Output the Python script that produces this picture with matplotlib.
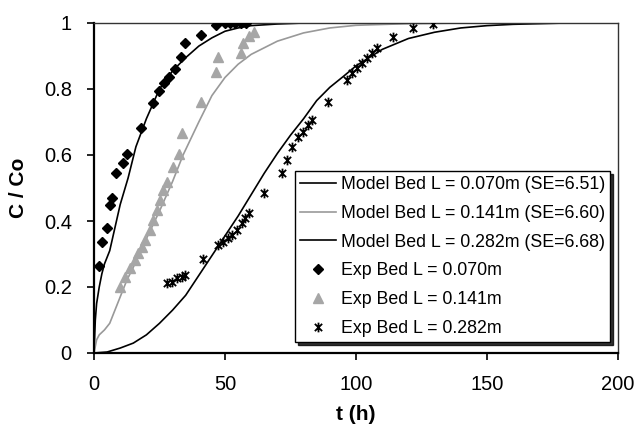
import matplotlib
matplotlib.use("Agg")
import matplotlib.pyplot as plt
from matplotlib.path import Path

plt.rcParams['font.family'] = ['Liberation Sans', 'DejaVu Sans']

# ---- Model curves ----
m1_t = [0, 0.5, 1, 2, 3, 4, 6, 8, 10, 13, 16, 20, 25, 30, 35, 40, 45, 50, 55, 60, 70, 80, 90]
m1_c = [0, 0.10, 0.15, 0.20, 0.24, 0.27, 0.31, 0.38, 0.45, 0.53, 0.625, 0.71, 0.80, 0.855, 0.895, 0.93, 0.955, 0.975, 0.985, 0.992, 0.997, 1.0, 1.0]

m2_t = [0, 1, 2, 4, 6, 8, 10, 12.5, 15, 19, 22, 25, 30, 34, 40, 45, 50, 55, 60, 70, 80, 90, 100, 120, 140, 160, 180]
m2_c = [0, 0.04, 0.055, 0.07, 0.09, 0.13, 0.17, 0.22, 0.26, 0.33, 0.38, 0.43, 0.52, 0.60, 0.70, 0.78, 0.835, 0.875, 0.905, 0.945, 0.97, 0.985, 0.993, 0.998, 1.0, 1.0, 1.0]

m3_t = [0, 5, 10, 15, 20, 25, 30, 35, 40, 45, 50, 55, 60, 65, 70, 75, 80, 85, 90, 95, 100, 110, 120, 130, 140, 150, 160, 170, 180]
m3_c = [0, 0.003, 0.015, 0.03, 0.055, 0.09, 0.13, 0.175, 0.235, 0.295, 0.355, 0.415, 0.48, 0.545, 0.605, 0.66, 0.71, 0.765, 0.805, 0.837, 0.87, 0.92, 0.953, 0.972, 0.985, 0.992, 0.996, 0.998, 1.0]

# ---- Experimental data ----
e1_t = [2, 3, 5, 6, 7, 8.5, 11, 12.7, 17.9, 22.6, 24.9, 26.7, 28.7, 31, 33.1, 34.7, 40.7, 46.6, 50, 52, 54, 56, 58]
e1_c = [0.265, 0.335, 0.38, 0.45, 0.47, 0.545, 0.576, 0.603, 0.682, 0.758, 0.795, 0.819, 0.835, 0.86, 0.896, 0.94, 0.965, 0.993, 1.0, 1.0, 1.0, 1.0, 1.0]

e2_t = [9.9, 11.8, 13.7, 15.6, 16.9, 18.2, 19.5, 21.4, 22.6, 23.9, 25.2, 26.4, 27.7, 30.0, 32.6, 33.5, 40.7, 46.6, 47.4, 56.0, 57.0, 59.3, 61.1]
e2_c = [0.201, 0.231, 0.257, 0.282, 0.302, 0.322, 0.342, 0.373, 0.403, 0.433, 0.464, 0.494, 0.519, 0.565, 0.603, 0.666, 0.762, 0.852, 0.896, 0.908, 0.940, 0.961, 0.973]

e3_t = [27.7, 29.6, 31.6, 33.5, 34.7, 41.5, 47.4, 49.4, 51.3, 52.6, 54.5, 56.4, 57.6, 59.3, 64.9,
        71.6, 73.5, 75.5, 78.0, 79.9, 81.8, 83.1, 89.4, 96.4, 98.4, 100.3, 102.2, 104.1, 106.0, 107.9,
        114.2, 121.6, 129.3]
e3_c = [0.211, 0.216, 0.226, 0.231, 0.236, 0.285, 0.327, 0.337, 0.348, 0.358, 0.373, 0.393, 0.408, 0.423, 0.486,
        0.545, 0.585, 0.625, 0.655, 0.671, 0.691, 0.706, 0.762, 0.827, 0.848, 0.863, 0.878, 0.893, 0.908, 0.923,
        0.957, 0.984, 0.997]

labels = ["Model Bed L = 0.070m (SE=6.51)", "Model Bed L = 0.141m (SE=6.60)",
          "Model Bed L = 0.282m (SE=6.68)", "Exp Bed L = 0.070m",
          "Exp Bed L = 0.141m", "Exp Bed L = 0.282m"]

x_ticks = [0, 50, 100, 150, 200]
y_ticks = [0, 0.2, 0.4, 0.6, 0.8, 1.0]
y_tick_labels = ["0", "0.2", "0.4", "0.6", "0.8", "1"]

star = Path([(0, -1), (0, 1), (-0.75, -0.75), (0.75, 0.75), (-0.75, 0.75), (0.75, -0.75)],
            [Path.MOVETO, Path.LINETO, Path.MOVETO, Path.LINETO, Path.MOVETO, Path.LINETO])

fig = plt.figure(figsize=(6.4, 4.33), dpi=100)
ax = fig.add_axes([94/640, 1 - 353/433, (618 - 94)/640, (353 - 23)/433])

grey = '#999999'
ax.plot(m1_t, m1_c, color='black', lw=1.2, label=labels[0], zorder=2)
ax.plot(m2_t, m2_c, color=grey, lw=1.2, label=labels[1], zorder=2)
ax.plot(m3_t, m3_c, color='black', lw=1.2, label=labels[2], zorder=2)
ax.plot(e1_t, e1_c, ls='none', marker='D', ms=5.5, color='black', label=labels[3], zorder=3)
ax.plot(e2_t, e2_c, ls='none', marker='^', ms=7, color='#a6a6a6', mec='#a6a6a6', label=labels[4], zorder=3)
ax.plot(e3_t, e3_c, ls='none', marker=star, ms=7, color='black', mew=1.3, label=labels[5], zorder=3)

ax.set_xlim(0, 200)
ax.set_ylim(0, 1)
ax.set_xticks(x_ticks)
ax.set_xticklabels([str(v) for v in x_ticks])
ax.set_yticks(y_ticks)
ax.set_yticklabels(y_tick_labels)
ax.tick_params(direction='out', length=5, width=1.2, labelsize=14.5, pad=11)

for s in ['left', 'bottom']:
    ax.spines[s].set_linewidth(1.6)
for s in ['top', 'right']:
    ax.spines[s].set_linewidth(1.0)
    ax.spines[s].set_color('#333333')

ax.set_xlabel('t (h)', fontsize=15, fontweight='bold')
ax.set_ylabel('C / Co', fontsize=15, fontweight='bold')
ax.xaxis.set_label_coords(0.5, -0.158)
ax.yaxis.set_label_coords(-0.126, 0.5)

leg = ax.legend(loc='lower right', bbox_to_anchor=(0.985, 0.033), fontsize=12.8,
                frameon=True, fancybox=False, shadow={'color': 'black', 'alpha': 0.8},
                edgecolor='black', framealpha=1, labelspacing=0.66,
                handlelength=2.0, handletextpad=0.26, borderpad=0.3, borderaxespad=0)
leg.get_frame().set_linewidth(1.0)

fig.savefig('out.png', dpi=100)
